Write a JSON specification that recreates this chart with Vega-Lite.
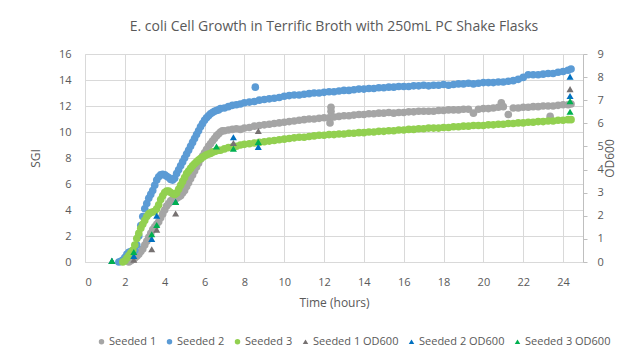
{
  "$schema": "https://vega.github.io/schema/vega-lite/v6.json",
  "width": 498,
  "height": 208,
  "autosize": {"type": "none"},
  "padding": {"left": 85, "top": 54, "right": 61, "bottom": 100},
  "background": "white",
  "title": {"text": "E. coli Cell Growth in Terrific Broth with 250mL PC Shake Flasks", "anchor": "middle", "fontSize": 14, "font": "Open Sans", "fontWeight": "normal", "color": "#595959", "offset": 14},
  "datasets": {
    "sgi": [
      {"series":"Seeded 1","t":2.2,"v":0},{"series":"Seeded 1","t":2.3,"v":0.1},{"series":"Seeded 1","t":2.4,"v":0.2},{"series":"Seeded 1","t":2.5,"v":0.3},{"series":"Seeded 1","t":2.6,"v":0.45},{"series":"Seeded 1","t":2.7,"v":0.6},{"series":"Seeded 1","t":2.8,"v":0.8},{"series":"Seeded 1","t":2.9,"v":1.0},{"series":"Seeded 1","t":3.0,"v":1.3},{"series":"Seeded 1","t":3.1,"v":1.6},{"series":"Seeded 1","t":3.2,"v":1.9},{"series":"Seeded 1","t":3.3,"v":2.2},{"series":"Seeded 1","t":3.4,"v":2.5},{"series":"Seeded 1","t":3.5,"v":2.7},{"series":"Seeded 1","t":3.6,"v":2.9},{"series":"Seeded 1","t":3.7,"v":3.1},{"series":"Seeded 1","t":3.8,"v":3.4},{"series":"Seeded 1","t":3.9,"v":3.7},{"series":"Seeded 1","t":4.0,"v":4.0},{"series":"Seeded 1","t":4.1,"v":4.3},{"series":"Seeded 1","t":4.2,"v":4.5},{"series":"Seeded 1","t":4.3,"v":4.7},{"series":"Seeded 1","t":4.4,"v":4.8},{"series":"Seeded 1","t":4.5,"v":4.85},{"series":"Seeded 1","t":4.6,"v":4.9},{"series":"Seeded 1","t":4.7,"v":5.0},{"series":"Seeded 1","t":4.8,"v":5.1},{"series":"Seeded 1","t":4.9,"v":5.3},{"series":"Seeded 1","t":5.0,"v":5.5},{"series":"Seeded 1","t":5.1,"v":5.8},{"series":"Seeded 1","t":5.2,"v":6.1},{"series":"Seeded 1","t":5.3,"v":6.4},{"series":"Seeded 1","t":5.4,"v":6.7},{"series":"Seeded 1","t":5.5,"v":7.0},{"series":"Seeded 1","t":5.6,"v":7.3},{"series":"Seeded 1","t":5.7,"v":7.6},{"series":"Seeded 1","t":5.8,"v":7.9},{"series":"Seeded 1","t":5.9,"v":8.15},{"series":"Seeded 1","t":6.0,"v":8.4},{"series":"Seeded 1","t":6.1,"v":8.65},{"series":"Seeded 1","t":6.2,"v":8.9},{"series":"Seeded 1","t":6.3,"v":9.1},{"series":"Seeded 1","t":6.4,"v":9.3},{"series":"Seeded 1","t":6.5,"v":9.5},{"series":"Seeded 1","t":6.6,"v":9.7},{"series":"Seeded 1","t":6.7,"v":9.85},{"series":"Seeded 1","t":6.8,"v":10.0},{"series":"Seeded 1","t":6.9,"v":10.1},{"series":"Seeded 1","t":7.0,"v":10.1},{"series":"Seeded 1","t":7.2,"v":10.15},{"series":"Seeded 1","t":7.4,"v":10.2},{"series":"Seeded 1","t":7.6,"v":10.25},{"series":"Seeded 1","t":7.8,"v":10.2},{"series":"Seeded 1","t":8.0,"v":10.3},{"series":"Seeded 1","t":8.25,"v":10.35},{"series":"Seeded 1","t":8.5,"v":10.45},{"series":"Seeded 1","t":8.75,"v":10.5},{"series":"Seeded 1","t":9.0,"v":10.55},{"series":"Seeded 1","t":9.25,"v":10.6},{"series":"Seeded 1","t":9.5,"v":10.65},{"series":"Seeded 1","t":9.75,"v":10.7},{"series":"Seeded 1","t":10,"v":10.75},{"series":"Seeded 1","t":10.25,"v":10.8},{"series":"Seeded 1","t":10.5,"v":10.85},{"series":"Seeded 1","t":10.75,"v":10.9},{"series":"Seeded 1","t":11,"v":10.95},{"series":"Seeded 1","t":11.25,"v":11.0},{"series":"Seeded 1","t":11.5,"v":11.0},{"series":"Seeded 1","t":11.75,"v":11.05},{"series":"Seeded 1","t":12,"v":11.1},{"series":"Seeded 1","t":12.25,"v":11.1},{"series":"Seeded 1","t":12.3,"v":10.7},{"series":"Seeded 1","t":12.35,"v":11.6},{"series":"Seeded 1","t":12.35,"v":11.9},{"series":"Seeded 1","t":12.5,"v":11.15},{"series":"Seeded 1","t":12.75,"v":11.2},{"series":"Seeded 1","t":13,"v":11.25},{"series":"Seeded 1","t":13.25,"v":11.25},{"series":"Seeded 1","t":13.5,"v":11.3},{"series":"Seeded 1","t":13.75,"v":11.35},{"series":"Seeded 1","t":14,"v":11.35},{"series":"Seeded 1","t":14.25,"v":11.4},{"series":"Seeded 1","t":14.5,"v":11.4},{"series":"Seeded 1","t":14.75,"v":11.45},{"series":"Seeded 1","t":15,"v":11.45},{"series":"Seeded 1","t":15.25,"v":11.5},{"series":"Seeded 1","t":15.5,"v":11.45},{"series":"Seeded 1","t":15.75,"v":11.5},{"series":"Seeded 1","t":16,"v":11.5},{"series":"Seeded 1","t":16.25,"v":11.55},{"series":"Seeded 1","t":16.5,"v":11.55},{"series":"Seeded 1","t":16.75,"v":11.6},{"series":"Seeded 1","t":17,"v":11.6},{"series":"Seeded 1","t":17.25,"v":11.6},{"series":"Seeded 1","t":17.5,"v":11.6},{"series":"Seeded 1","t":17.75,"v":11.65},{"series":"Seeded 1","t":18,"v":11.65},{"series":"Seeded 1","t":18.25,"v":11.7},{"series":"Seeded 1","t":18.5,"v":11.7},{"series":"Seeded 1","t":18.75,"v":11.7},{"series":"Seeded 1","t":19,"v":11.75},{"series":"Seeded 1","t":19.25,"v":11.75},{"series":"Seeded 1","t":19.5,"v":11.45},{"series":"Seeded 1","t":19.75,"v":11.75},{"series":"Seeded 1","t":20,"v":11.8},{"series":"Seeded 1","t":20.25,"v":11.8},{"series":"Seeded 1","t":20.5,"v":11.85},{"series":"Seeded 1","t":20.75,"v":11.9},{"series":"Seeded 1","t":20.9,"v":12.25},{"series":"Seeded 1","t":21,"v":11.95},{"series":"Seeded 1","t":21.25,"v":11.35},{"series":"Seeded 1","t":21.5,"v":11.85},{"series":"Seeded 1","t":21.75,"v":11.85},{"series":"Seeded 1","t":22,"v":11.9},{"series":"Seeded 1","t":22.25,"v":11.9},{"series":"Seeded 1","t":22.5,"v":11.95},{"series":"Seeded 1","t":22.75,"v":11.95},{"series":"Seeded 1","t":23,"v":12.0},{"series":"Seeded 1","t":23.25,"v":12.0},{"series":"Seeded 1","t":23.35,"v":11.2},{"series":"Seeded 1","t":23.5,"v":12.0},{"series":"Seeded 1","t":23.75,"v":12.05},{"series":"Seeded 1","t":24,"v":12.1},{"series":"Seeded 1","t":24.25,"v":12.1},{"series":"Seeded 1","t":24.4,"v":12.15},
      {"series":"Seeded 2","t":1.7,"v":0},{"series":"Seeded 2","t":1.8,"v":0.05},{"series":"Seeded 2","t":1.9,"v":0.15},{"series":"Seeded 2","t":2.0,"v":0.35},{"series":"Seeded 2","t":2.1,"v":0.6},{"series":"Seeded 2","t":2.2,"v":0.75},{"series":"Seeded 2","t":2.3,"v":0.8},{"series":"Seeded 2","t":2.4,"v":0.85},{"series":"Seeded 2","t":2.5,"v":0.9},{"series":"Seeded 2","t":2.6,"v":1.3},{"series":"Seeded 2","t":2.7,"v":2.0},{"series":"Seeded 2","t":2.8,"v":2.8},{"series":"Seeded 2","t":2.9,"v":3.5},{"series":"Seeded 2","t":3.0,"v":4.1},{"series":"Seeded 2","t":3.1,"v":4.5},{"series":"Seeded 2","t":3.2,"v":4.9},{"series":"Seeded 2","t":3.3,"v":5.2},{"series":"Seeded 2","t":3.4,"v":5.5},{"series":"Seeded 2","t":3.5,"v":5.9},{"series":"Seeded 2","t":3.6,"v":6.3},{"series":"Seeded 2","t":3.7,"v":6.55},{"series":"Seeded 2","t":3.8,"v":6.7},{"series":"Seeded 2","t":3.9,"v":6.75},{"series":"Seeded 2","t":4.0,"v":6.7},{"series":"Seeded 2","t":4.1,"v":6.6},{"series":"Seeded 2","t":4.2,"v":6.5},{"series":"Seeded 2","t":4.3,"v":6.35},{"series":"Seeded 2","t":4.4,"v":6.3},{"series":"Seeded 2","t":4.5,"v":6.45},{"series":"Seeded 2","t":4.6,"v":6.8},{"series":"Seeded 2","t":4.7,"v":7.1},{"series":"Seeded 2","t":4.8,"v":7.4},{"series":"Seeded 2","t":4.9,"v":7.7},{"series":"Seeded 2","t":5.0,"v":8.0},{"series":"Seeded 2","t":5.1,"v":8.3},{"series":"Seeded 2","t":5.2,"v":8.6},{"series":"Seeded 2","t":5.3,"v":8.9},{"series":"Seeded 2","t":5.4,"v":9.2},{"series":"Seeded 2","t":5.5,"v":9.5},{"series":"Seeded 2","t":5.6,"v":9.8},{"series":"Seeded 2","t":5.7,"v":10.1},{"series":"Seeded 2","t":5.8,"v":10.4},{"series":"Seeded 2","t":5.9,"v":10.65},{"series":"Seeded 2","t":6.0,"v":10.9},{"series":"Seeded 2","t":6.1,"v":11.1},{"series":"Seeded 2","t":6.2,"v":11.25},{"series":"Seeded 2","t":6.3,"v":11.4},{"series":"Seeded 2","t":6.4,"v":11.5},{"series":"Seeded 2","t":6.5,"v":11.6},{"series":"Seeded 2","t":6.6,"v":11.65},{"series":"Seeded 2","t":6.7,"v":11.7},{"series":"Seeded 2","t":6.8,"v":11.8},{"series":"Seeded 2","t":7.0,"v":11.85},{"series":"Seeded 2","t":7.2,"v":11.95},{"series":"Seeded 2","t":7.4,"v":12.05},{"series":"Seeded 2","t":7.6,"v":12.1},{"series":"Seeded 2","t":7.8,"v":12.15},{"series":"Seeded 2","t":8.0,"v":12.25},{"series":"Seeded 2","t":8.25,"v":12.3},{"series":"Seeded 2","t":8.5,"v":12.35},{"series":"Seeded 2","t":8.55,"v":13.45},{"series":"Seeded 2","t":8.75,"v":12.45},{"series":"Seeded 2","t":9.0,"v":12.5},{"series":"Seeded 2","t":9.25,"v":12.55},{"series":"Seeded 2","t":9.5,"v":12.6},{"series":"Seeded 2","t":9.75,"v":12.65},{"series":"Seeded 2","t":10,"v":12.75},{"series":"Seeded 2","t":10.25,"v":12.8},{"series":"Seeded 2","t":10.5,"v":12.85},{"series":"Seeded 2","t":10.75,"v":12.85},{"series":"Seeded 2","t":11,"v":12.9},{"series":"Seeded 2","t":11.25,"v":12.95},{"series":"Seeded 2","t":11.5,"v":13.0},{"series":"Seeded 2","t":11.75,"v":13.0},{"series":"Seeded 2","t":12,"v":13.05},{"series":"Seeded 2","t":12.25,"v":13.1},{"series":"Seeded 2","t":12.5,"v":13.1},{"series":"Seeded 2","t":12.75,"v":13.15},{"series":"Seeded 2","t":13,"v":13.2},{"series":"Seeded 2","t":13.25,"v":13.2},{"series":"Seeded 2","t":13.5,"v":13.25},{"series":"Seeded 2","t":13.75,"v":13.3},{"series":"Seeded 2","t":14,"v":13.3},{"series":"Seeded 2","t":14.25,"v":13.35},{"series":"Seeded 2","t":14.5,"v":13.35},{"series":"Seeded 2","t":14.75,"v":13.4},{"series":"Seeded 2","t":15,"v":13.4},{"series":"Seeded 2","t":15.25,"v":13.45},{"series":"Seeded 2","t":15.5,"v":13.45},{"series":"Seeded 2","t":15.75,"v":13.5},{"series":"Seeded 2","t":16,"v":13.5},{"series":"Seeded 2","t":16.25,"v":13.5},{"series":"Seeded 2","t":16.5,"v":13.55},{"series":"Seeded 2","t":16.75,"v":13.55},{"series":"Seeded 2","t":17,"v":13.6},{"series":"Seeded 2","t":17.25,"v":13.55},{"series":"Seeded 2","t":17.5,"v":13.6},{"series":"Seeded 2","t":17.75,"v":13.6},{"series":"Seeded 2","t":18,"v":13.65},{"series":"Seeded 2","t":18.25,"v":13.6},{"series":"Seeded 2","t":18.5,"v":13.65},{"series":"Seeded 2","t":18.75,"v":13.7},{"series":"Seeded 2","t":19,"v":13.7},{"series":"Seeded 2","t":19.25,"v":13.75},{"series":"Seeded 2","t":19.5,"v":13.7},{"series":"Seeded 2","t":19.75,"v":13.75},{"series":"Seeded 2","t":20,"v":13.8},{"series":"Seeded 2","t":20.25,"v":13.8},{"series":"Seeded 2","t":20.5,"v":13.8},{"series":"Seeded 2","t":20.75,"v":13.85},{"series":"Seeded 2","t":21,"v":13.85},{"series":"Seeded 2","t":21.25,"v":13.9},{"series":"Seeded 2","t":21.5,"v":13.95},{"series":"Seeded 2","t":21.75,"v":14.05},{"series":"Seeded 2","t":22,"v":14.2},{"series":"Seeded 2","t":22.25,"v":14.4},{"series":"Seeded 2","t":22.5,"v":14.4},{"series":"Seeded 2","t":22.75,"v":14.4},{"series":"Seeded 2","t":23,"v":14.45},{"series":"Seeded 2","t":23.25,"v":14.5},{"series":"Seeded 2","t":23.5,"v":14.5},{"series":"Seeded 2","t":23.75,"v":14.6},{"series":"Seeded 2","t":24,"v":14.65},{"series":"Seeded 2","t":24.25,"v":14.75},{"series":"Seeded 2","t":24.4,"v":14.85},
      {"series":"Seeded 3","t":1.9,"v":0},{"series":"Seeded 3","t":2.0,"v":0.1},{"series":"Seeded 3","t":2.1,"v":0.3},{"series":"Seeded 3","t":2.2,"v":0.5},{"series":"Seeded 3","t":2.3,"v":0.7},{"series":"Seeded 3","t":2.4,"v":0.9},{"series":"Seeded 3","t":2.5,"v":1.3},{"series":"Seeded 3","t":2.6,"v":1.8},{"series":"Seeded 3","t":2.7,"v":2.2},{"series":"Seeded 3","t":2.8,"v":2.6},{"series":"Seeded 3","t":2.9,"v":2.9},{"series":"Seeded 3","t":3.0,"v":3.2},{"series":"Seeded 3","t":3.1,"v":3.5},{"series":"Seeded 3","t":3.2,"v":3.7},{"series":"Seeded 3","t":3.3,"v":3.8},{"series":"Seeded 3","t":3.4,"v":3.85},{"series":"Seeded 3","t":3.5,"v":3.9},{"series":"Seeded 3","t":3.6,"v":4.1},{"series":"Seeded 3","t":3.7,"v":4.4},{"series":"Seeded 3","t":3.8,"v":4.8},{"series":"Seeded 3","t":3.9,"v":5.1},{"series":"Seeded 3","t":4.0,"v":5.35},{"series":"Seeded 3","t":4.1,"v":5.45},{"series":"Seeded 3","t":4.2,"v":5.45},{"series":"Seeded 3","t":4.3,"v":5.35},{"series":"Seeded 3","t":4.4,"v":5.25},{"series":"Seeded 3","t":4.5,"v":5.2},{"series":"Seeded 3","t":4.6,"v":5.3},{"series":"Seeded 3","t":4.7,"v":5.6},{"series":"Seeded 3","t":4.8,"v":5.9},{"series":"Seeded 3","t":4.9,"v":6.2},{"series":"Seeded 3","t":5.0,"v":6.5},{"series":"Seeded 3","t":5.1,"v":6.8},{"series":"Seeded 3","t":5.2,"v":7.0},{"series":"Seeded 3","t":5.3,"v":7.2},{"series":"Seeded 3","t":5.4,"v":7.4},{"series":"Seeded 3","t":5.5,"v":7.55},{"series":"Seeded 3","t":5.6,"v":7.7},{"series":"Seeded 3","t":5.7,"v":7.85},{"series":"Seeded 3","t":5.8,"v":7.95},{"series":"Seeded 3","t":5.9,"v":8.05},{"series":"Seeded 3","t":6.0,"v":8.15},{"series":"Seeded 3","t":6.1,"v":8.25},{"series":"Seeded 3","t":6.2,"v":8.3},{"series":"Seeded 3","t":6.3,"v":8.35},{"series":"Seeded 3","t":6.4,"v":8.45},{"series":"Seeded 3","t":6.5,"v":8.5},{"series":"Seeded 3","t":6.6,"v":8.55},{"series":"Seeded 3","t":6.7,"v":8.6},{"series":"Seeded 3","t":6.8,"v":8.6},{"series":"Seeded 3","t":7.0,"v":8.7},{"series":"Seeded 3","t":7.2,"v":8.8},{"series":"Seeded 3","t":7.4,"v":8.85},{"series":"Seeded 3","t":7.6,"v":8.9},{"series":"Seeded 3","t":7.8,"v":9.0},{"series":"Seeded 3","t":8.0,"v":9.05},{"series":"Seeded 3","t":8.25,"v":9.1},{"series":"Seeded 3","t":8.5,"v":9.15},{"series":"Seeded 3","t":8.75,"v":9.2},{"series":"Seeded 3","t":9.0,"v":9.25},{"series":"Seeded 3","t":9.25,"v":9.3},{"series":"Seeded 3","t":9.5,"v":9.35},{"series":"Seeded 3","t":9.75,"v":9.4},{"series":"Seeded 3","t":10,"v":9.45},{"series":"Seeded 3","t":10.25,"v":9.5},{"series":"Seeded 3","t":10.5,"v":9.55},{"series":"Seeded 3","t":10.75,"v":9.6},{"series":"Seeded 3","t":11,"v":9.6},{"series":"Seeded 3","t":11.25,"v":9.65},{"series":"Seeded 3","t":11.5,"v":9.7},{"series":"Seeded 3","t":11.75,"v":9.75},{"series":"Seeded 3","t":12,"v":9.75},{"series":"Seeded 3","t":12.25,"v":9.8},{"series":"Seeded 3","t":12.5,"v":9.8},{"series":"Seeded 3","t":12.75,"v":9.85},{"series":"Seeded 3","t":13,"v":9.85},{"series":"Seeded 3","t":13.25,"v":9.9},{"series":"Seeded 3","t":13.5,"v":9.9},{"series":"Seeded 3","t":13.75,"v":9.95},{"series":"Seeded 3","t":14,"v":9.95},{"series":"Seeded 3","t":14.25,"v":10.0},{"series":"Seeded 3","t":14.5,"v":10.0},{"series":"Seeded 3","t":14.75,"v":10.05},{"series":"Seeded 3","t":15,"v":10.05},{"series":"Seeded 3","t":15.25,"v":10.1},{"series":"Seeded 3","t":15.5,"v":10.1},{"series":"Seeded 3","t":15.75,"v":10.15},{"series":"Seeded 3","t":16,"v":10.15},{"series":"Seeded 3","t":16.25,"v":10.2},{"series":"Seeded 3","t":16.5,"v":10.2},{"series":"Seeded 3","t":16.75,"v":10.25},{"series":"Seeded 3","t":17,"v":10.25},{"series":"Seeded 3","t":17.25,"v":10.3},{"series":"Seeded 3","t":17.5,"v":10.3},{"series":"Seeded 3","t":17.75,"v":10.3},{"series":"Seeded 3","t":18,"v":10.35},{"series":"Seeded 3","t":18.25,"v":10.35},{"series":"Seeded 3","t":18.5,"v":10.4},{"series":"Seeded 3","t":18.75,"v":10.4},{"series":"Seeded 3","t":19,"v":10.45},{"series":"Seeded 3","t":19.25,"v":10.45},{"series":"Seeded 3","t":19.5,"v":10.5},{"series":"Seeded 3","t":19.75,"v":10.5},{"series":"Seeded 3","t":20,"v":10.5},{"series":"Seeded 3","t":20.25,"v":10.55},{"series":"Seeded 3","t":20.5,"v":10.55},{"series":"Seeded 3","t":20.75,"v":10.6},{"series":"Seeded 3","t":21,"v":10.6},{"series":"Seeded 3","t":21.25,"v":10.65},{"series":"Seeded 3","t":21.5,"v":10.65},{"series":"Seeded 3","t":21.75,"v":10.7},{"series":"Seeded 3","t":22,"v":10.7},{"series":"Seeded 3","t":22.25,"v":10.75},{"series":"Seeded 3","t":22.5,"v":10.75},{"series":"Seeded 3","t":22.75,"v":10.8},{"series":"Seeded 3","t":23,"v":10.8},{"series":"Seeded 3","t":23.25,"v":10.85},{"series":"Seeded 3","t":23.5,"v":10.85},{"series":"Seeded 3","t":23.75,"v":10.9},{"series":"Seeded 3","t":24,"v":10.9},{"series":"Seeded 3","t":24.25,"v":10.95},{"series":"Seeded 3","t":24.4,"v":10.95}
    ],
    "od": [
      {"series":"Seeded 1 OD600","t":1.35,"v":0.05},{"series":"Seeded 1 OD600","t":2.45,"v":0.1},{"series":"Seeded 1 OD600","t":3.35,"v":0.55},{"series":"Seeded 1 OD600","t":3.6,"v":1.4},{"series":"Seeded 1 OD600","t":4.55,"v":2.1},{"series":"Seeded 1 OD600","t":7.45,"v":5.15},{"series":"Seeded 1 OD600","t":8.7,"v":5.67},{"series":"Seeded 1 OD600","t":24.35,"v":7.48},
      {"series":"Seeded 2 OD600","t":1.35,"v":0.05},{"series":"Seeded 2 OD600","t":2.45,"v":0.26},{"series":"Seeded 2 OD600","t":3.35,"v":1.0},{"series":"Seeded 2 OD600","t":3.6,"v":2.0},{"series":"Seeded 2 OD600","t":4.55,"v":2.6},{"series":"Seeded 2 OD600","t":7.45,"v":5.4},{"series":"Seeded 2 OD600","t":8.7,"v":4.98},{"series":"Seeded 2 OD600","t":24.35,"v":8.02},{"series":"Seeded 2 OD600","t":24.35,"v":7.18},
      {"series":"Seeded 3 OD600","t":1.35,"v":0.05},{"series":"Seeded 3 OD600","t":2.45,"v":0.43},{"series":"Seeded 3 OD600","t":3.35,"v":1.2},{"series":"Seeded 3 OD600","t":3.6,"v":1.6},{"series":"Seeded 3 OD600","t":4.55,"v":2.6},{"series":"Seeded 3 OD600","t":6.6,"v":5.0},{"series":"Seeded 3 OD600","t":7.45,"v":4.9},{"series":"Seeded 3 OD600","t":8.7,"v":5.2},{"series":"Seeded 3 OD600","t":24.35,"v":6.96},{"series":"Seeded 3 OD600","t":24.35,"v":6.5}
    ]
  },
  "layer": [
    {
      "data": {"name": "sgi"},
      "mark": {"type": "point", "filled": true, "opacity": 1, "size": 58, "strokeWidth": 0},
      "encoding": {
        "x": {"field": "t", "type": "quantitative", "title": "Time (hours)",
              "scale": {"domain": [0, 25], "nice": false, "zero": false},
              "axis": {"values": [0,2,4,6,8,10,12,14,16,18,20,22,24], "grid": true, "gridColor": "#D9D9D9", "domainColor": "#D9D9D9", "ticks": false, "tickSize": 0, "labelPadding": 14, "titlePadding": 10}},
        "y": {"field": "v", "type": "quantitative", "title": "SGI",
              "scale": {"domain": [0, 16], "nice": false},
              "axis": {"orient": "left", "values": [0,2,4,6,8,10,12,14,16], "grid": true, "gridColor": "#D9D9D9", "domainColor": "#D9D9D9", "ticks": false, "tickSize": 0, "labelPadding": 14, "titlePadding": 16}},
        "color": {"field": "series", "type": "nominal",
                  "scale": {"domain": ["Seeded 1","Seeded 2","Seeded 3","Seeded 1 OD600","Seeded 2 OD600","Seeded 3 OD600"], "range": ["#A5A5A5","#5B9BD5","#92D050","#767171","#0070C0","#00B050"]},
                  "legend": {"orient": "none", "legendX": 11, "legendY": 282, "direction": "horizontal", "title": null}},
        "shape": {"field": "series", "type": "nominal",
                  "scale": {"domain": ["Seeded 1","Seeded 2","Seeded 3","Seeded 1 OD600","Seeded 2 OD600","Seeded 3 OD600"], "range": ["circle","circle","circle","triangle-up","triangle-up","triangle-up"]},
                  "legend": {"orient": "none", "legendX": 11, "legendY": 282, "direction": "horizontal", "title": null}}
      }
    },
    {
      "data": {"name": "od"},
      "mark": {"type": "point", "filled": true, "opacity": 1, "size": 50, "strokeWidth": 0},
      "encoding": {
        "x": {"field": "t", "type": "quantitative"},
        "y": {"field": "v", "type": "quantitative", "title": "OD600",
              "scale": {"domain": [0, 9], "nice": false},
              "axis": {"orient": "right", "values": [0,1,2,3,4,5,6,7,8,9], "grid": false, "domainColor": "#BFBFBF", "tickColor": "#BFBFBF", "ticks": true, "tickSize": 4, "labelPadding": 10, "titlePadding": 13, "titleAngle": 270}},
        "color": {"field": "series", "type": "nominal"},
        "shape": {"field": "series", "type": "nominal"}
      }
    }
  ],
  "resolve": {"scale": {"y": "independent"}, "axis": {"y": "independent"}},
  "config": {
    "view": {"stroke": null},
    "font": "Open Sans",
    "axis": {"labelFont": "Open Sans", "labelFontSize": 11, "labelColor": "#595959", "titleFont": "Open Sans", "titleFontSize": 12, "titleFontWeight": "normal", "titleColor": "#595959"},
    "legend": {"labelFont": "Open Sans", "labelFontSize": 11, "labelColor": "#595959", "symbolSize": 30, "symbolStrokeWidth": 0, "columnPadding": 7, "labelOffset": 2}
  }
}
